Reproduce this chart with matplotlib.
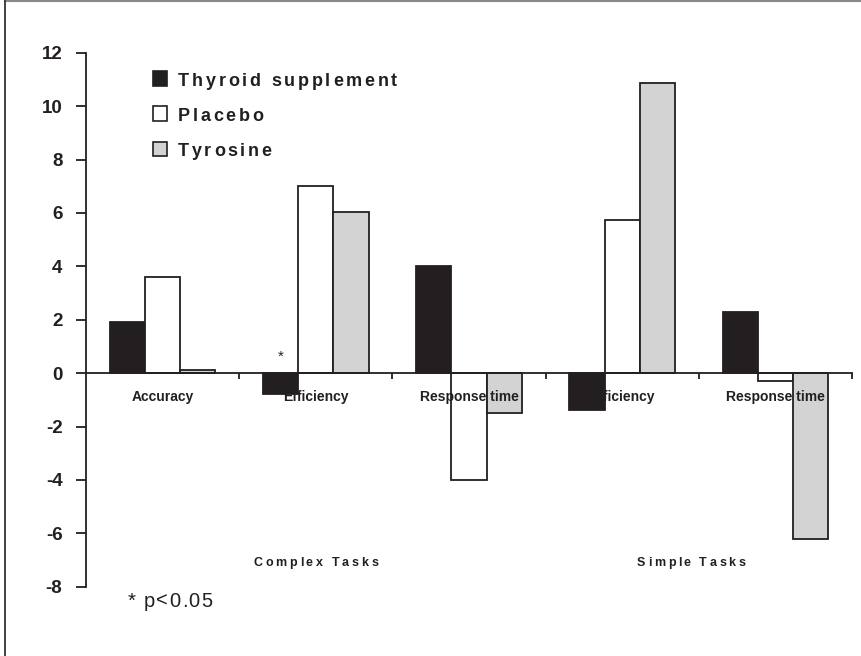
import matplotlib
matplotlib.use("Agg")
import matplotlib.pyplot as plt
import numpy as np
from matplotlib.font_manager import FontProperties
from matplotlib.lines import Line2D
from matplotlib.patches import Rectangle
from matplotlib.transforms import offset_copy

categories = ["Accuracy", "Efficiency", "Response time", "Efficiency", "Response time"]
thyroid = [1.9, -0.8, 4.0, -1.4, 2.3]
placebo = [3.6, 7.0, -4.0, 5.75, -0.3]
tyrosine = [0.1, 6.05, -1.5, 10.85, -6.2]
series_names = ["Thyroid supplement", "Placebo", "Tyrosine"]
task_groups = ["Complex Tasks", "Simple Tasks"]
task_positions = [1.0, 3.45]
yticks = list(range(-8, 13, 2))

W, H, DPI = 862, 656, 100
plt.rcParams["font.family"] = ["Liberation Sans", "DejaVu Sans"]

fig = plt.figure(figsize=(W / DPI, H / DPI), dpi=DPI)
ax = fig.add_axes([86 / W, 1 - 586.7 / H, (852 - 86) / W, (586.7 - 52.7) / H])

dark = "#231f20"
colors = [dark, "white", "#d3d3d3"]
x = np.arange(len(categories))
bw = 0.23
for i, (vals, c) in enumerate(zip([thyroid, placebo, tyrosine], colors)):
    ax.bar(x + (i - 1) * bw, vals, bw, color=c, edgecolor=dark, linewidth=1.3, zorder=2)

ax.set_xlim(-0.5, 4.5)
ax.set_ylim(-8, 12)
for s in ["top", "right"]:
    ax.spines[s].set_visible(False)
ax.spines["bottom"].set_position(("data", 0))
for s in ["left", "bottom"]:
    ax.spines[s].set_color(dark)
    ax.spines[s].set_linewidth(1.3)
    ax.spines[s].set_zorder(3)

ax.set_xticks(np.arange(0.5, 5, 1))
ax.set_xticklabels([])
ax.tick_params(axis="x", direction="out", length=4.5, width=1.3, color=dark)
ax.set_yticks(yticks)
ax.set_yticklabels([str(v) for v in yticks], fontsize=13.5, fontweight="bold", color=dark)
ax.tick_params(axis="y", direction="out", length=7, width=1.3, color=dark, pad=10)

# category names are drawn over the bars (black on black disappears)
for xi, name in zip(x, categories):
    ax.text(xi, -0.9, name, ha="center", va="center", fontsize=10,
            fontweight="bold", color=dark, zorder=4)

ax.text(1 - bw, 0.35, "*", ha="center", va="bottom", fontsize=11, color=dark)

renderer = fig.canvas.get_renderer()


def spaced_text(xpos, ypos, s, size, target_px, transform, weight="bold", ha="left"):
    fp = FontProperties(family="Liberation Sans", weight=weight, size=size)
    widths = []
    for ch in s:
        if ch == " ":
            widths.append(0.278 * size * DPI / 72)
        else:
            widths.append(renderer.get_text_width_height_descent(ch, fp, ismath=False)[0])
    gap = (target_px - sum(widths)) / (len(s) - 1)
    off = -target_px / 2 if ha == "center" else 0
    for ch, wd in zip(s, widths):
        t = offset_copy(transform, fig=fig, x=off * 72 / DPI, y=0, units="points")
        fig.text(xpos, ypos, ch, transform=t, fontproperties=fp, color=dark,
                 ha="left", va="baseline")
        off += wd + gap


def fx(px):
    return px / W


def fy(py):
    return 1 - py / H


# legend
legend_rows = [78.5, 113.5, 148.5]
legend_widths = [219, 85, 93]
for name, c, yc, tw in zip(series_names, colors, legend_rows, legend_widths):
    fig.add_artist(Rectangle((fx(153), fy(yc + 7)), 14 / W, 14 / H, transform=fig.transFigure,
                             facecolor=c, edgecolor=dark, linewidth=1.2))
    spaced_text(fx(178), fy(yc + 7.5), name, 13, tw, fig.transFigure)

# task group labels
for name, xp, tw in zip(task_groups, task_positions, [125, 108]):
    spaced_text(xp, -7.23, name, 9, tw, ax.transData, ha="center")

spaced_text(fx(128), fy(607), "* p<0.05", 14.5, 84, fig.transFigure, weight="normal")

# frame remnants along the top and left edges
fig.add_artist(Line2D([fx(5), 1], [fy(1.3), fy(1.3)], transform=fig.transFigure,
                      color="#8a8a8a", linewidth=1.5))
fig.add_artist(Line2D([fx(5.5), fx(5.5)], [fy(1), 0], transform=fig.transFigure,
                      color="#333333", linewidth=1.3))

fig.savefig("out.png", dpi=DPI)
